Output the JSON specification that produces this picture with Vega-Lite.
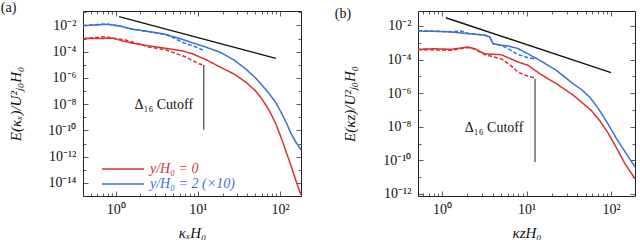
{
  "$schema": "https://vega.github.io/schema/vega-lite/v6.json",
  "padding": {"left": 0, "top": 0, "right": 3, "bottom": 0},
  "config": {
    "font": "Liberation Serif",
    "view": {"stroke": "#222", "strokeWidth": 1},
    "axis": {
      "domain": false, "grid": false,
      "labelFont": "Liberation Serif", "labelFontSize": 14, "labelColor": "#111",
      "tickColor": "#333", "tickWidth": 0.8,
      "titleFont": "Liberation Serif", "titleFontSize": 15, "titleFontStyle": "italic",
      "titleFontWeight": "normal", "titleColor": "#111",
      "labelOverlap": false, "labelFlush": false
    },
    "title": {"font": "Liberation Serif", "fontSize": 14, "fontWeight": "normal", "color": "#111"}
  },
  "resolve": {"scale": {"color": "independent"}},
  "spacing": 29,
  "hconcat": [
    {
      "width": 218, "height": 185,
      "title": {"text": "(a)", "anchor": "start", "frame": "bounds", "offset": -10, "dx": -8},
      "resolve": {"axis": {"x": "independent", "y": "independent"}},
      "layer": [
        {
          "data": {"values": [
            {"k": 0.4, "E": 9.9e-4, "s": "y/H₀ = 0", "d": "solid"},
            {"k": 0.92, "E": 1.06e-3, "s": "y/H₀ = 0", "d": "solid"},
            {"k": 1.22, "E": 6.6e-4, "s": "y/H₀ = 0", "d": "solid"},
            {"k": 1.61, "E": 4.4e-4, "s": "y/H₀ = 0", "d": "solid"},
            {"k": 2.58, "E": 2.75e-4, "s": "y/H₀ = 0", "d": "solid"},
            {"k": 4.1, "E": 1.8e-4, "s": "y/H₀ = 0", "d": "solid"},
            {"k": 6.56, "E": 1.14e-4, "s": "y/H₀ = 0", "d": "solid"},
            {"k": 8.72, "E": 6.7e-5, "s": "y/H₀ = 0", "d": "solid"},
            {"k": 12.4, "E": 2.57e-5, "s": "y/H₀ = 0", "d": "solid"},
            {"k": 19.6, "E": 5.8e-6, "s": "y/H₀ = 0", "d": "solid"},
            {"k": 27.5, "E": 2.0e-6, "s": "y/H₀ = 0", "d": "solid"},
            {"k": 38.2, "E": 4.95e-7, "s": "y/H₀ = 0", "d": "solid"},
            {"k": 50.5, "E": 1.02e-7, "s": "y/H₀ = 0", "d": "solid"},
            {"k": 60.2, "E": 2.5e-8, "s": "y/H₀ = 0", "d": "solid"},
            {"k": 73.3, "E": 3.65e-9, "s": "y/H₀ = 0", "d": "solid"},
            {"k": 89.3, "E": 3.1e-10, "s": "y/H₀ = 0", "d": "solid"},
            {"k": 105.5, "E": 1.89e-11, "s": "y/H₀ = 0", "d": "solid"},
            {"k": 121, "E": 1.62e-12, "s": "y/H₀ = 0", "d": "solid"},
            {"k": 135, "E": 2.35e-13, "s": "y/H₀ = 0", "d": "solid"},
            {"k": 155, "E": 1.7e-14, "s": "y/H₀ = 0", "d": "solid"},
            {"k": 180, "E": 1.2e-15, "s": "y/H₀ = 0", "d": "solid"},
            {"k": 0.4, "E": 9.7e-3, "s": "y/H₀ = 2 (×10)", "d": "solid"},
            {"k": 0.8, "E": 1.23e-2, "s": "y/H₀ = 2 (×10)", "d": "solid"},
            {"k": 1.11, "E": 9.1e-3, "s": "y/H₀ = 2 (×10)", "d": "solid"},
            {"k": 1.61, "E": 5.1e-3, "s": "y/H₀ = 2 (×10)", "d": "solid"},
            {"k": 2.58, "E": 3.4e-3, "s": "y/H₀ = 2 (×10)", "d": "solid"},
            {"k": 4.07, "E": 2.1e-3, "s": "y/H₀ = 2 (×10)", "d": "solid"},
            {"k": 6.56, "E": 8.5e-4, "s": "y/H₀ = 2 (×10)", "d": "solid"},
            {"k": 8.72, "E": 4.6e-4, "s": "y/H₀ = 2 (×10)", "d": "solid"},
            {"k": 12.4, "E": 2.3e-4, "s": "y/H₀ = 2 (×10)", "d": "solid"},
            {"k": 19.6, "E": 8.0e-5, "s": "y/H₀ = 2 (×10)", "d": "solid"},
            {"k": 27.5, "E": 2.35e-5, "s": "y/H₀ = 2 (×10)", "d": "solid"},
            {"k": 38.2, "E": 4.85e-6, "s": "y/H₀ = 2 (×10)", "d": "solid"},
            {"k": 50.5, "E": 1.0e-6, "s": "y/H₀ = 2 (×10)", "d": "solid"},
            {"k": 60.2, "E": 2.93e-7, "s": "y/H₀ = 2 (×10)", "d": "solid"},
            {"k": 73.3, "E": 6.6e-8, "s": "y/H₀ = 2 (×10)", "d": "solid"},
            {"k": 89.3, "E": 1.25e-8, "s": "y/H₀ = 2 (×10)", "d": "solid"},
            {"k": 105.5, "E": 1.8e-9, "s": "y/H₀ = 2 (×10)", "d": "solid"},
            {"k": 121, "E": 3.2e-10, "s": "y/H₀ = 2 (×10)", "d": "solid"},
            {"k": 135, "E": 6.5e-11, "s": "y/H₀ = 2 (×10)", "d": "solid"},
            {"k": 155, "E": 1.33e-11, "s": "y/H₀ = 2 (×10)", "d": "solid"},
            {"k": 180, "E": 3.3e-12, "s": "y/H₀ = 2 (×10)", "d": "solid"},
            {"k": 0.4, "E": 9.7e-3, "s": "y/H₀ = 2 (×10)", "d": "dashed"},
            {"k": 0.76, "E": 1.3e-2, "s": "y/H₀ = 2 (×10)", "d": "dashed"},
            {"k": 1.11, "E": 9.3e-3, "s": "y/H₀ = 2 (×10)", "d": "dashed"},
            {"k": 1.61, "E": 5.2e-3, "s": "y/H₀ = 2 (×10)", "d": "dashed"},
            {"k": 2.58, "E": 3.3e-3, "s": "y/H₀ = 2 (×10)", "d": "dashed"},
            {"k": 4.07, "E": 2.0e-3, "s": "y/H₀ = 2 (×10)", "d": "dashed"},
            {"k": 5.0, "E": 1.2e-3, "s": "y/H₀ = 2 (×10)", "d": "dashed"},
            {"k": 6.56, "E": 5e-4, "s": "y/H₀ = 2 (×10)", "d": "dashed"},
            {"k": 9.45, "E": 2.3e-4, "s": "y/H₀ = 2 (×10)", "d": "dashed"},
            {"k": 12, "E": 1.2e-4, "s": "y/H₀ = 2 (×10)", "d": "dashed"},
            {"k": 0.4, "E": 1.0e-3, "s": "y/H₀ = 0", "d": "dashed"},
            {"k": 0.76, "E": 1.4e-3, "s": "y/H₀ = 0", "d": "dashed"},
            {"k": 0.92, "E": 1.1e-3, "s": "y/H₀ = 0", "d": "dashed"},
            {"k": 1.32, "E": 7.9e-4, "s": "y/H₀ = 0", "d": "dashed"},
            {"k": 2.52, "E": 2.3e-4, "s": "y/H₀ = 0", "d": "dashed"},
            {"k": 4.2, "E": 1.3e-4, "s": "y/H₀ = 0", "d": "dashed"},
            {"k": 5.7, "E": 6.5e-5, "s": "y/H₀ = 0", "d": "dashed"},
            {"k": 7.1, "E": 4e-5, "s": "y/H₀ = 0", "d": "dashed"},
            {"k": 10.3, "E": 1.2e-5, "s": "y/H₀ = 0", "d": "dashed"},
            {"k": 12, "E": 9e-6, "s": "y/H₀ = 0", "d": "dashed"}
          ]},
          "mark": {"type": "line", "strokeWidth": 1.5},
          "encoding": {
            "x": {"field": "k", "type": "quantitative",
              "scale": {"type": "log", "domain": [0.4, 180], "nice": false},
              "axis": {"orient": "bottom", "title": "κₓH₀", "titlePadding": 7, "labelPadding": 11,
                "values": [0.4,0.5,0.6,0.7,0.8,0.9,1,2,3,4,5,6,7,8,9,10,20,30,40,50,60,70,80,90,100],
                "tickSize": {"condition": {"test": "abs(log(datum.value)/LN10 - round(log(datum.value)/LN10)) < 0.001", "value": -5}, "value": -3},
                "labelExpr": "abs(log(datum.value)/LN10 - round(log(datum.value)/LN10)) < 0.001 ? '10' + replace(replace(replace(replace(replace(replace(replace(toString(round(log(datum.value)/LN10)),'-','⁻'),'0','⁰'),'1','¹'),'2','²'),'4','⁴'),'6','⁶'),'8','⁸') : ''"}},
            "y": {"field": "E", "type": "quantitative",
              "scale": {"type": "log", "domain": [1e-15, 0.127], "nice": false},
              "axis": {"orient": "left", "title": "E(κₓ)/U²ⱼ₀H₀", "titlePadding": 24, "labelPadding": 12,
                "values": [1e-15,1e-14,1e-13,1e-12,1e-11,1e-10,1e-9,1e-8,1e-7,1e-6,1e-5,1e-4,1e-3,1e-2,1e-1],
                "tickSize": {"condition": {"test": "round(log(datum.value)/LN10) % 2 == 0", "value": -5}, "value": -3},
                "labelExpr": "round(log(datum.value)/LN10) % 2 == 0 ? '10' + replace(replace(replace(replace(replace(replace(replace(toString(round(log(datum.value)/LN10)),'-','⁻'),'0','⁰'),'1','¹'),'2','²'),'4','⁴'),'6','⁶'),'8','⁸') : ''"}},
            "color": {"field": "s", "type": "nominal",
              "scale": {"domain": ["y/H₀ = 0", "y/H₀ = 2 (×10)"], "range": ["#d93030", "#3a6fdc"]},
              "legend": {"orient": "none", "legendX": 32, "legendY": 150, "title": null, "direction": "vertical",
                "symbolType": "M-3,0H3", "symbolSize": 196, "symbolStrokeWidth": 1.5, "rowPadding": -0.8,
                "labelFont": "Liberation Serif", "labelFontSize": 14, "labelFontStyle": "italic", "labelOffset": 19, "padding": 0,
                "encode": {"labels": {"update": {"fill": {"signal": "datum.value === 'y/H₀ = 0' ? '#d93030' : '#3a6fdc'"}}}}}},
            "strokeDash": {"field": "d", "type": "nominal",
              "scale": {"domain": ["solid", "dashed"], "range": [[1, 0], [4, 2]]}, "legend": null}
          }
        },
        {
          "data": {"values": [{"k": 1.1, "E": 0.047}, {"k": 89, "E": 3.1e-5}]},
          "mark": {"type": "line", "color": "#111", "strokeWidth": 1.4},
          "encoding": {
            "x": {"field": "k", "type": "quantitative",
              "axis": {"orient": "top", "title": null, "labels": false,
                "values": [0.4,0.5,0.6,0.7,0.8,0.9,1,2,3,4,5,6,7,8,9,10,20,30,40,50,60,70,80,90,100],
                "tickSize": {"condition": {"test": "abs(log(datum.value)/LN10 - round(log(datum.value)/LN10)) < 0.001", "value": -5}, "value": -3}}},
            "y": {"field": "E", "type": "quantitative",
              "axis": {"orient": "right", "title": null, "labels": false,
                "values": [1e-15,1e-14,1e-13,1e-12,1e-11,1e-10,1e-9,1e-8,1e-7,1e-6,1e-5,1e-4,1e-3,1e-2,1e-1],
                "tickSize": {"condition": {"test": "round(log(datum.value)/LN10) % 2 == 0", "value": -5}, "value": -3}}}
          }
        },
        {
          "data": {"values": [{"k": 11.8, "E": 9.8e-6}, {"k": 11.8, "E": 1.1e-10}]},
          "mark": {"type": "line", "color": "#444", "strokeWidth": 1.2},
          "encoding": {
            "x": {"field": "k", "type": "quantitative", "axis": null},
            "y": {"field": "E", "type": "quantitative", "axis": null}
          }
        },
        {
          "data": {"values": [{"k": 3.85, "E": 8.7e-9, "t": "Δ₁₆ Cutoff"}]},
          "mark": {"type": "text", "font": "Liberation Serif", "fontSize": 14, "color": "#111", "align": "center", "baseline": "middle"},
          "encoding": {
            "x": {"field": "k", "type": "quantitative", "axis": null},
            "y": {"field": "E", "type": "quantitative", "axis": null},
            "text": {"field": "t"}
          }
        }
      ]
    },
    {
      "width": 217, "height": 185,
      "title": {"text": "(b)", "anchor": "start", "frame": "bounds", "offset": -10, "dx": -8},
      "resolve": {"axis": {"x": "independent", "y": "independent"}},
      "layer": [
        {
          "data": {"values": [
            {"k": 0.52, "E": 4.1e-4, "s": "y/H₀ = 0", "d": "solid"},
            {"k": 0.82, "E": 4.4e-4, "s": "y/H₀ = 0", "d": "solid"},
            {"k": 1.29, "E": 4.1e-4, "s": "y/H₀ = 0", "d": "solid"},
            {"k": 2.03, "E": 5.6e-4, "s": "y/H₀ = 0", "d": "solid"},
            {"k": 2.44, "E": 4.4e-4, "s": "y/H₀ = 0", "d": "solid"},
            {"k": 3.2, "E": 2.2e-4, "s": "y/H₀ = 0", "d": "solid"},
            {"k": 5.04, "E": 1.95e-4, "s": "y/H₀ = 0", "d": "solid"},
            {"k": 7.93, "E": 7.2e-5, "s": "y/H₀ = 0", "d": "solid"},
            {"k": 10.4, "E": 4.6e-5, "s": "y/H₀ = 0", "d": "solid"},
            {"k": 14.3, "E": 1.45e-5, "s": "y/H₀ = 0", "d": "solid"},
            {"k": 22.5, "E": 3.7e-6, "s": "y/H₀ = 0", "d": "solid"},
            {"k": 35.5, "E": 7.8e-7, "s": "y/H₀ = 0", "d": "solid"},
            {"k": 58, "E": 9.6e-8, "s": "y/H₀ = 0", "d": "solid"},
            {"k": 74.1, "E": 2.2e-8, "s": "y/H₀ = 0", "d": "solid"},
            {"k": 92.1, "E": 4.3e-9, "s": "y/H₀ = 0", "d": "solid"},
            {"k": 114.5, "E": 6.3e-10, "s": "y/H₀ = 0", "d": "solid"},
            {"k": 146.5, "E": 6.2e-11, "s": "y/H₀ = 0", "d": "solid"},
            {"k": 192, "E": 8.1e-12, "s": "y/H₀ = 0", "d": "solid"},
            {"k": 0.52, "E": 5.0e-3, "s": "y/H₀ = 2 (×10)", "d": "solid"},
            {"k": 0.82, "E": 4.8e-3, "s": "y/H₀ = 2 (×10)", "d": "solid"},
            {"k": 1.29, "E": 4.4e-3, "s": "y/H₀ = 2 (×10)", "d": "solid"},
            {"k": 2.03, "E": 3.5e-3, "s": "y/H₀ = 2 (×10)", "d": "solid"},
            {"k": 3.2, "E": 2.8e-3, "s": "y/H₀ = 2 (×10)", "d": "solid"},
            {"k": 3.67, "E": 2.2e-3, "s": "y/H₀ = 2 (×10)", "d": "solid"},
            {"k": 4.01, "E": 8.9e-4, "s": "y/H₀ = 2 (×10)", "d": "solid"},
            {"k": 5.04, "E": 7.1e-4, "s": "y/H₀ = 2 (×10)", "d": "solid"},
            {"k": 6.04, "E": 6.5e-4, "s": "y/H₀ = 2 (×10)", "d": "solid"},
            {"k": 7.93, "E": 4.5e-4, "s": "y/H₀ = 2 (×10)", "d": "solid"},
            {"k": 10.4, "E": 2.2e-4, "s": "y/H₀ = 2 (×10)", "d": "solid"},
            {"k": 14.3, "E": 9.1e-5, "s": "y/H₀ = 2 (×10)", "d": "solid"},
            {"k": 22.5, "E": 2.3e-5, "s": "y/H₀ = 2 (×10)", "d": "solid"},
            {"k": 35.5, "E": 3.7e-6, "s": "y/H₀ = 2 (×10)", "d": "solid"},
            {"k": 45.4, "E": 1.55e-6, "s": "y/H₀ = 2 (×10)", "d": "solid"},
            {"k": 56.4, "E": 5.5e-7, "s": "y/H₀ = 2 (×10)", "d": "solid"},
            {"k": 70.2, "E": 1.3e-7, "s": "y/H₀ = 2 (×10)", "d": "solid"},
            {"k": 92.1, "E": 1.47e-8, "s": "y/H₀ = 2 (×10)", "d": "solid"},
            {"k": 114.5, "E": 2.2e-9, "s": "y/H₀ = 2 (×10)", "d": "solid"},
            {"k": 146.5, "E": 3.2e-10, "s": "y/H₀ = 2 (×10)", "d": "solid"},
            {"k": 192, "E": 4.1e-11, "s": "y/H₀ = 2 (×10)", "d": "solid"},
            {"k": 0.52, "E": 5.2e-3, "s": "y/H₀ = 2 (×10)", "d": "dashed"},
            {"k": 1.29, "E": 4.6e-3, "s": "y/H₀ = 2 (×10)", "d": "dashed"},
            {"k": 1.68, "E": 5.0e-3, "s": "y/H₀ = 2 (×10)", "d": "dashed"},
            {"k": 2.03, "E": 3.7e-3, "s": "y/H₀ = 2 (×10)", "d": "dashed"},
            {"k": 3.2, "E": 2.9e-3, "s": "y/H₀ = 2 (×10)", "d": "dashed"},
            {"k": 3.67, "E": 2.2e-3, "s": "y/H₀ = 2 (×10)", "d": "dashed"},
            {"k": 4.01, "E": 9e-4, "s": "y/H₀ = 2 (×10)", "d": "dashed"},
            {"k": 5.04, "E": 7.0e-4, "s": "y/H₀ = 2 (×10)", "d": "dashed"},
            {"k": 6.3, "E": 3.9e-4, "s": "y/H₀ = 2 (×10)", "d": "dashed"},
            {"k": 7.93, "E": 2.0e-4, "s": "y/H₀ = 2 (×10)", "d": "dashed"},
            {"k": 10.4, "E": 1.3e-4, "s": "y/H₀ = 2 (×10)", "d": "dashed"},
            {"k": 12.5, "E": 1.1e-4, "s": "y/H₀ = 2 (×10)", "d": "dashed"},
            {"k": 0.52, "E": 3.9e-4, "s": "y/H₀ = 0", "d": "dashed"},
            {"k": 1.29, "E": 3.6e-4, "s": "y/H₀ = 0", "d": "dashed"},
            {"k": 2.03, "E": 5.2e-4, "s": "y/H₀ = 0", "d": "dashed"},
            {"k": 2.44, "E": 4.2e-4, "s": "y/H₀ = 0", "d": "dashed"},
            {"k": 3.2, "E": 2.0e-4, "s": "y/H₀ = 0", "d": "dashed"},
            {"k": 5.04, "E": 1.1e-4, "s": "y/H₀ = 0", "d": "dashed"},
            {"k": 6.6, "E": 4.2e-5, "s": "y/H₀ = 0", "d": "dashed"},
            {"k": 7.93, "E": 1.8e-5, "s": "y/H₀ = 0", "d": "dashed"},
            {"k": 9.5, "E": 1.2e-5, "s": "y/H₀ = 0", "d": "dashed"},
            {"k": 12.5, "E": 8e-6, "s": "y/H₀ = 0", "d": "dashed"}
          ]},
          "mark": {"type": "line", "strokeWidth": 1.5},
          "encoding": {
            "x": {"field": "k", "type": "quantitative",
              "scale": {"type": "log", "domain": [0.52, 192], "nice": false},
              "axis": {"orient": "bottom", "title": "κzH₀", "titlePadding": 7, "labelPadding": 11,
                "values": [0.6,0.7,0.8,0.9,1,2,3,4,5,6,7,8,9,10,20,30,40,50,60,70,80,90,100],
                "tickSize": {"condition": {"test": "abs(log(datum.value)/LN10 - round(log(datum.value)/LN10)) < 0.001", "value": -5}, "value": -3},
                "labelExpr": "abs(log(datum.value)/LN10 - round(log(datum.value)/LN10)) < 0.001 ? '10' + replace(replace(replace(replace(replace(replace(replace(toString(round(log(datum.value)/LN10)),'-','⁻'),'0','⁰'),'1','¹'),'2','²'),'4','⁴'),'6','⁶'),'8','⁸') : ''"}},
            "y": {"field": "E", "type": "quantitative",
              "scale": {"type": "log", "domain": [7.6e-13, 0.078], "nice": false},
              "axis": {"orient": "left", "title": "E(κz)/U²ⱼ₀H₀", "titlePadding": 25, "labelPadding": 12,
                "values": [1e-12,1e-11,1e-10,1e-9,1e-8,1e-7,1e-6,1e-5,1e-4,1e-3,1e-2],
                "tickSize": {"condition": {"test": "round(log(datum.value)/LN10) % 2 == 0", "value": -5}, "value": -3},
                "labelExpr": "round(log(datum.value)/LN10) % 2 == 0 ? '10' + replace(replace(replace(replace(replace(replace(replace(toString(round(log(datum.value)/LN10)),'-','⁻'),'0','⁰'),'1','¹'),'2','²'),'4','⁴'),'6','⁶'),'8','⁸') : ''"}},
            "color": {"field": "s", "type": "nominal",
              "scale": {"domain": ["y/H₀ = 0", "y/H₀ = 2 (×10)"], "range": ["#d93030", "#3a6fdc"]},
              "legend": null},
            "strokeDash": {"field": "d", "type": "nominal",
              "scale": {"domain": ["solid", "dashed"], "range": [[1, 0], [4, 2]]}, "legend": null}
          }
        },
        {
          "data": {"values": [{"k": 1.11, "E": 0.031}, {"k": 100, "E": 1.66e-5}]},
          "mark": {"type": "line", "color": "#111", "strokeWidth": 1.4},
          "encoding": {
            "x": {"field": "k", "type": "quantitative",
              "axis": {"orient": "top", "title": null, "labels": false,
                "values": [0.6,0.7,0.8,0.9,1,2,3,4,5,6,7,8,9,10,20,30,40,50,60,70,80,90,100],
                "tickSize": {"condition": {"test": "abs(log(datum.value)/LN10 - round(log(datum.value)/LN10)) < 0.001", "value": -5}, "value": -3}}},
            "y": {"field": "E", "type": "quantitative",
              "axis": {"orient": "right", "title": null, "labels": false,
                "values": [1e-12,1e-11,1e-10,1e-9,1e-8,1e-7,1e-6,1e-5,1e-4,1e-3,1e-2],
                "tickSize": {"condition": {"test": "round(log(datum.value)/LN10) % 2 == 0", "value": -5}, "value": -3}}}
          }
        },
        {
          "data": {"values": [{"k": 12.6, "E": 7e-6}, {"k": 12.6, "E": 8e-11}]},
          "mark": {"type": "line", "color": "#444", "strokeWidth": 1.2},
          "encoding": {
            "x": {"field": "k", "type": "quantitative", "axis": null},
            "y": {"field": "E", "type": "quantitative", "axis": null}
          }
        },
        {
          "data": {"values": [{"k": 4.13, "E": 8.5e-9, "t": "Δ₁₆ Cutoff"}]},
          "mark": {"type": "text", "font": "Liberation Serif", "fontSize": 14, "color": "#111", "align": "center", "baseline": "middle"},
          "encoding": {
            "x": {"field": "k", "type": "quantitative", "axis": null},
            "y": {"field": "E", "type": "quantitative", "axis": null},
            "text": {"field": "t"}
          }
        }
      ]
    }
  ]
}
